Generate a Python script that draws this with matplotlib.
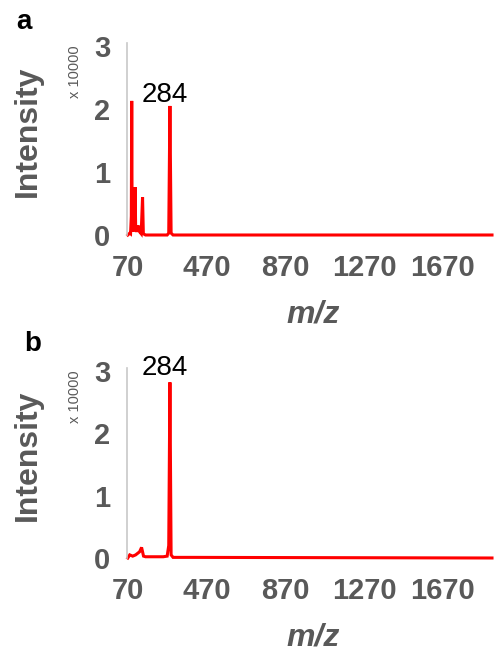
import matplotlib
matplotlib.use('Agg')
import matplotlib.pyplot as plt

plt.rcParams['font.family'] = ['Liberation Sans', 'DejaVu Sans']

# spectrum a (intensity in units of 10000)
mz_a = [70, 80, 84, 88, 90, 92, 96, 100, 104, 107, 110, 114, 118, 122, 126, 130,
        138, 145, 149, 160, 270, 278, 284, 290, 300, 1920]
int_a = [0, 0.03, 0.02, 0.3, 2.13, 0.2, 0.05, 0.3, 0.1, 0.76, 0.1, 0.05, 0.1, 0.15,
         0.12, 0.05, 0.02, 0.6, 0.02, 0, 0, 0.03, 2.05, 0.03, 0, 0]

# spectrum b
mz_b = [70, 80, 95, 110, 122, 130, 140, 145, 150, 160, 250, 270, 278, 284, 290,
        300, 400, 1920]
int_b = [0, 0.05, 0.03, 0.05, 0.08, 0.1, 0.17, 0.1, 0.03, 0.02, 0.02, 0.03, 0.2,
         2.82, 0.05, 0.01, 0.01, 0]

x_ticks = [70, 470, 870, 1270, 1670]
y_ticks = [0, 1, 2, 3]
peak_label = '284'

gray = '#595959'

fig = plt.figure(figsize=(4.97, 6.48), dpi=100)
ax_a = fig.add_axes([127/497, 1 - 235/648, (492 - 127)/497, (235 - 43)/648])
ax_b = fig.add_axes([127/497, 1 - 558/648, (492 - 127)/497, (558 - 368)/648])

panels = [(ax_a, mz_a, int_a, 2.11, 'a', (24, 22)),
          (ax_b, mz_b, int_b, 2.93, 'b', (33, 344))]

for ax, mz, inten, label_y, letter, lpos in panels:
    ax.plot(mz, inten, color='#ff0000', lw=2.2, solid_joinstyle='miter', clip_on=False)
    ax.set_xlim(66, 1920)
    ax.set_ylim(0, 3.05)
    ax.set_xticks(x_ticks)
    ax.set_yticks(y_ticks)
    ax.tick_params(length=0, labelsize=21, labelcolor=gray)
    ax.tick_params(axis='x', pad=14)
    ax.tick_params(axis='y', pad=12)
    for lab in ax.get_xticklabels() + ax.get_yticklabels():
        lab.set_fontweight('bold')
    for side in ['top', 'right', 'bottom']:
        ax.spines[side].set_visible(False)
    ax.spines['left'].set_color('#c8c8c8')
    ax.spines['left'].set_linewidth(1.2)
    ax.text(258, label_y, peak_label, ha='center', va='baseline', fontsize=20, color='black')

    bb = ax.get_position()
    ycen = (bb.y0 + bb.y1) / 2
    fig.text(28/497, ycen + 8/648, 'Intensity', rotation=90, ha='center', va='center',
             fontsize=23, fontweight='bold', color=gray)
    fig.text(75/497, bb.y1 - 29/648, 'x 10000', rotation=90, ha='center', va='center',
             fontsize=10.5, color=gray)
    fig.text(313/497, bb.y0 - 80/648, 'm/z', ha='center', va='center', fontsize=23,
             fontweight='bold', fontstyle='italic', color=gray)
    fig.text(lpos[0]/497, 1 - lpos[1]/648, letter, ha='center', va='center',
             fontsize=20, fontweight='bold', color='black')

fig.savefig('out.png', dpi=100)
